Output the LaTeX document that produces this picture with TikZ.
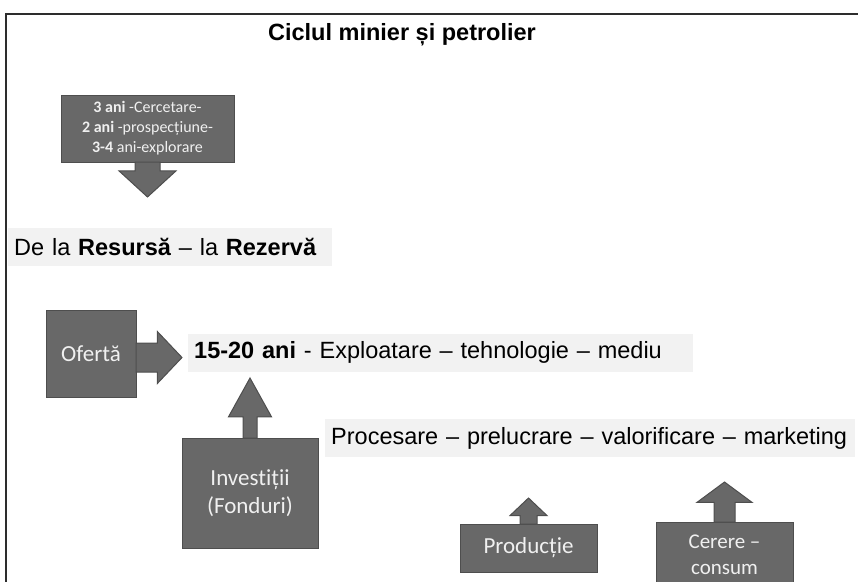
\documentclass[tikz,border=0pt]{standalone}
\usepackage{fontspec}
\setmainfont{Liberation Sans}
\newfontfamily\boxfont[Ligatures=NoCommon]{Carlito}
\usetikzlibrary{shapes.arrows}
\definecolor{boxgray}{RGB}{104,104,104}
\definecolor{boxedge}{RGB}{78,78,78}
\definecolor{boxtext}{RGB}{240,240,240}
\definecolor{stripgray}{RGB}{242,242,242}
\definecolor{framegray}{RGB}{45,45,45}

\begin{document}
\begin{tikzpicture}[x=1pt, y=-1pt,
  box/.style={rectangle, fill=boxgray, draw=boxedge, line width=1pt, text=boxtext, align=center, inner sep=0pt, outer sep=0pt, font=\boxfont\fontsize{23}{28}\selectfont},
  strip/.style={fill=stripgray, anchor=west, inner xsep=6pt, inner ysep=0pt, minimum height=38pt, align=left, font=\fontsize{23.5}{28}\selectfont},
  blockarr/.style={single arrow, fill=boxgray, draw=boxedge, line width=1pt, anchor=tail, inner sep=0pt, outer sep=0pt, minimum width=0pt}]
\path[use as bounding box] (0,0) rectangle (858,581);
\coordinate (fbl) at (6,590);
\coordinate (ftl) at (6,14);
\coordinate (ftr) at (862,14);
\draw[framegray, line width=1.5pt] (fbl) -- (ftl) -- (ftr);
\node[anchor=base, font=\bfseries\fontsize{23.5}{28}\selectfont] (title) at (402,40) {Ciclul minier și petrolier};
\node[box, minimum width=173pt, minimum height=67pt, font=\boxfont\fontsize{16}{20}\selectfont] (rsch) at (147.5,128.5) {\textbf{3 ani} -Cercetare-\\\textbf{2 ani} -prospecțiune-\\\textbf{3-4} ani-explorare};
\node[blockarr, shape border rotate=270, inner xsep=12pt, minimum height=35pt, single arrow head extend=16pt, single arrow tip angle=95] (rscharr) at (rsch.south) {};
\node[strip, text width=312pt] (dela) at (8,246.5) {De la \textbf{Resursă} – la \textbf{Rezervă}};
\node[strip, text width=493pt] (expl) at (188,352.5) {\textbf{15-20 ani} - Exploatare – tehnologie – mediu};
\node[strip, text width=518pt] (proc) at (325,438) {Procesare – prelucrare – valorificare – marketing};
\node[box, minimum width=90pt, minimum height=87pt] (ofr) at (91,353.5) {Ofertă};
\node[blockarr, inner ysep=14pt, minimum height=46pt, single arrow head extend=11.5pt, single arrow tip angle=93] (ofrarr) at ([yshift=-4pt]ofr.east) {};
\node[box, minimum width=136pt, minimum height=110pt] (inv) at (250,493) {Investiții\\(Fonduri)};
\node[blockarr, shape border rotate=90, inner xsep=6.5pt, minimum height=60pt, single arrow head extend=14.5pt, single arrow tip angle=58] (invarr) at (inv.north) {};
\node[box, minimum width=137pt, minimum height=48pt] (prod) at (528.5,548) {Producție};
\node[blockarr, shape border rotate=90, inner xsep=8pt, minimum height=26pt, single arrow head extend=10pt, single arrow tip angle=93] (prodarr) at (prod.north) {};
\node[box, anchor=north, minimum width=137pt, minimum height=66pt, font=\boxfont\fontsize{21}{26}\selectfont] (cer) at (724.5,522) {Cerere –\\consum};
\node[blockarr, shape border rotate=90, inner xsep=10pt, minimum height=40pt, single arrow head extend=17pt, single arrow tip angle=107] (cerarr) at (cer.north) {};
\end{tikzpicture}
\end{document}
